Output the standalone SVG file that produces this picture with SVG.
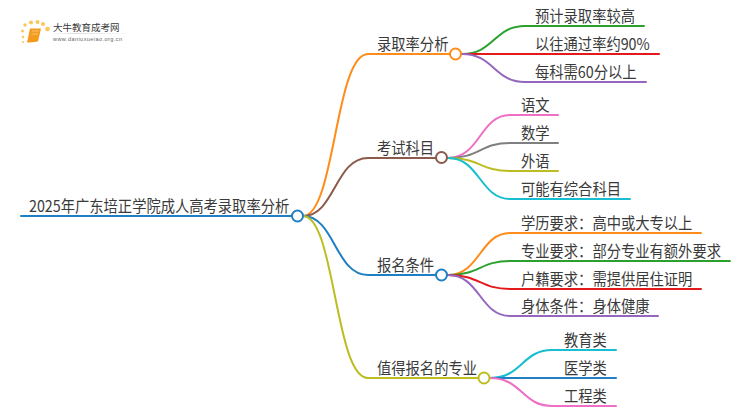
<svg xmlns="http://www.w3.org/2000/svg" width="750" height="410" viewBox="0 0 750 410">
<defs><linearGradient id="fade"><stop offset="0" stop-color="#ddd" stop-opacity="0"/><stop offset=".3" stop-color="#ddd"/><stop offset="1" stop-color="#ddd" stop-opacity="0"/></linearGradient></defs>
<style>
text{font-family:"Noto Sans CJK SC","Liberation Sans",sans-serif;fill:#3a3a3a;font-size:14.3px;transform-box:fill-box;transform-origin:0 100%;transform:scaleY(1.1)}
.l{fill:none;stroke-width:2;stroke-linecap:round}
.n{fill:#fff;stroke-width:2}
.d{fill:#fbc65a}
</style>
<rect width="750" height="410" fill="#fff"/>
<g id="logo">
<circle class="d" cx="23" cy="42" r="1"/><circle class="d" cx="23" cy="37" r="1.300"/><circle class="d" cx="22.500" cy="31" r="1.500"/><circle class="d" cx="25" cy="25" r="1.700"/><circle class="d" cx="31" cy="22.500" r="2"/><circle class="d" cx="37.500" cy="22" r="2"/><circle class="d" cx="43" cy="24" r="2"/><circle class="d" cx="47.500" cy="29" r="2.300"/>
<path d="M30 28.500L41 28.500L38 41.500Q33 42.500 27 42.500Z" fill="#f39a1f"/>
<path d="M32 31H39M31.500 34H38" stroke="#fcd089" stroke-width=".8" fill="none"/>
<rect x="50" y="33" width="83" height="1" fill="url(#fade)"/>
<text x="53" y="31" style="font-size:9.500px;transform:none">大牛教育成考网</text>
<text x="53" y="40.500" textLength="69" style="font-size:5.500px;font-family:'Liberation Sans',sans-serif;fill:#666;transform:none">www.daniuxueiao.org.cn</text>
</g>
<g id="connectors">
<path class="l" style="stroke:#1f7fc4" d="M21 216H292"/>
<path class="l" style="stroke:#ff8c1a" d="M303 216C335 216 335 54 368 54H450"/>
<path class="l" style="stroke:#8b5a4b" d="M303 216C335 216 335 158 368 158H436"/>
<path class="l" style="stroke:#1f7fc4" d="M303 216C335 216 335 275 368 275H436"/>
<path class="l" style="stroke:#bdbd22" d="M303 216C335 216 335 378 368 378H478"/>
<path class="l" style="stroke:#2ca02c" d="M462 54C494 54 494 26 525 26H644"/>
<path class="l" style="stroke:#e31a1c" d="M462 54H659"/>
<path class="l" style="stroke:#9467bd" d="M462 54C494 54 494 82 525 82H646"/>
<path class="l" style="stroke:#ee6fc4" d="M448 158C480 158 480 115 510 115H558"/>
<path class="l" style="stroke:#7f7f7f" d="M448 158C480 158 480 143 510 143H558"/>
<path class="l" style="stroke:#bdbd22" d="M448 158C480 158 480 171 510 171H558"/>
<path class="l" style="stroke:#17becf" d="M448 158C480 158 480 199 510 199H630"/>
<path class="l" style="stroke:#ff8c1a" d="M448 275C480 275 480 233 510 233H701"/>
<path class="l" style="stroke:#2ca02c" d="M448 275C480 275 480 261 510 261H730"/>
<path class="l" style="stroke:#e31a1c" d="M448 275C480 275 480 289 510 289H701"/>
<path class="l" style="stroke:#9467bd" d="M448 275C480 275 480 316 510 316H658"/>
<path class="l" style="stroke:#17becf" d="M490 378C522 378 522 350 552 350H616"/>
<path class="l" style="stroke:#1f7fc4" d="M490 378H616"/>
<path class="l" style="stroke:#ee6fc4" d="M490 378C522 378 522 406 552 406H616"/>
</g>
<g id="root"><circle class="n" cx="297.500" cy="216" r="5.500" stroke="#1f7fc4"/><text x="29" y="212">2025年广东培正学院成人高考录取率分析</text></g>
<g id="n1"><circle class="n" cx="455.500" cy="54" r="5.500" stroke="#ff8c1a"/><text x="377" y="50">录取率分析</text></g>
<g id="n2"><circle class="n" cx="441.500" cy="157.500" r="5.500" stroke="#8b5a4b"/><text x="377" y="154">考试科目</text></g>
<g id="n3"><circle class="n" cx="441.500" cy="275" r="5.500" stroke="#1f7fc4"/><text x="377" y="271">报名条件</text></g>
<g id="n4"><circle class="n" cx="484" cy="378" r="5.500" stroke="#bdbd22"/><text x="377" y="374">值得报名的专业</text></g>
<g id="c1"><text x="535" y="22">预计录取率较高</text><text x="535" y="50">以往通过率约90%</text><text x="535" y="78">每科需60分以上</text></g>
<g id="c2"><text x="521" y="111">语文</text><text x="521" y="139">数学</text><text x="521" y="167">外语</text><text x="521" y="195">可能有综合科目</text></g>
<g id="c3"><text x="521" y="229">学历要求：高中或大专以上</text><text x="521" y="257">专业要求：部分专业有额外要求</text><text x="521" y="285">户籍要求：需提供居住证明</text><text x="521" y="312">身体条件：身体健康</text></g>
<g id="c4"><text x="564" y="346">教育类</text><text x="564" y="374">医学类</text><text x="564" y="402">工程类</text></g>
</svg>
